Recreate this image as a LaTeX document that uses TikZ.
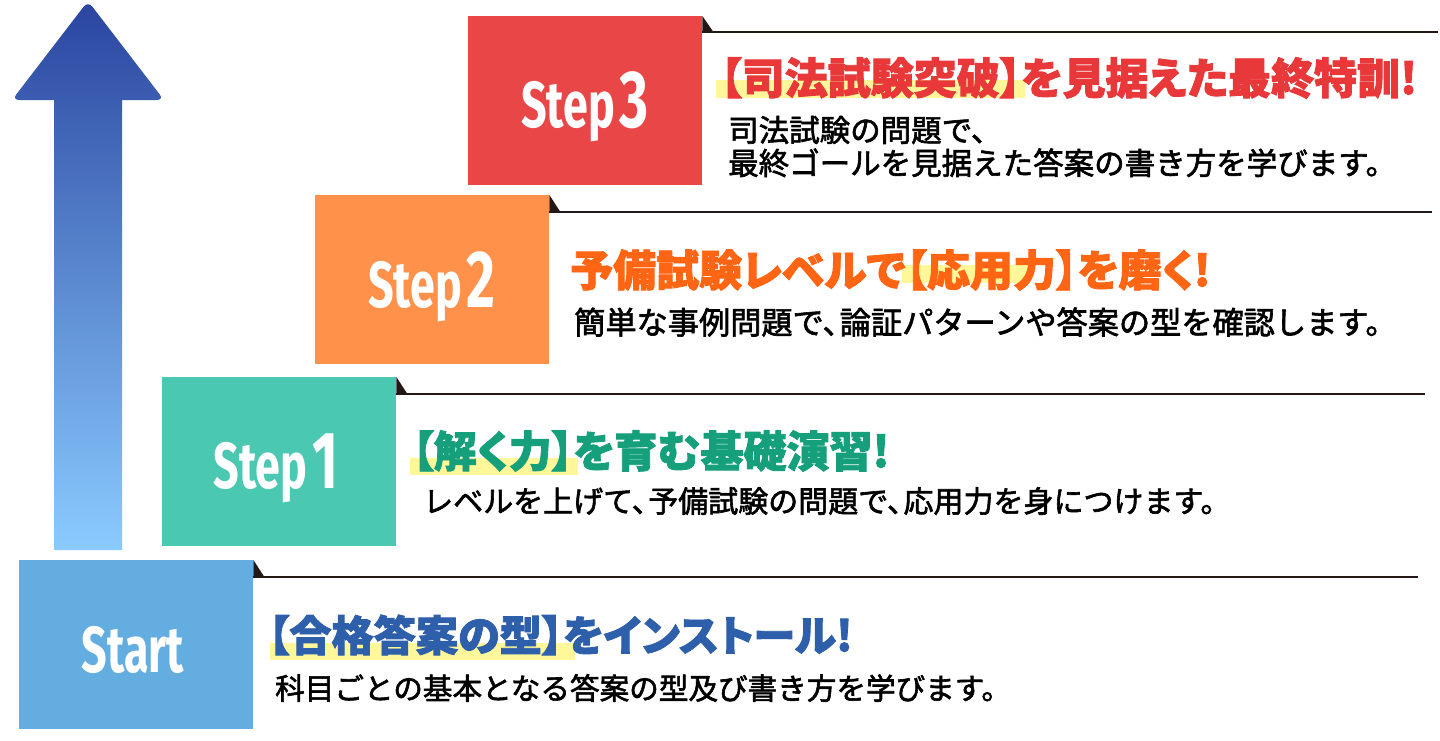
\documentclass[tikz,border=0pt]{standalone}
\usepackage{fontspec}
\newfontfamily\stepfont{Fira Sans}[FakeStretch=0.69]
\newfontfamily\jtitle{Noto Sans CJK JP}[RawFeature=+palt, BoldFeatures={FakeBold=2}]
\newfontfamily\jbody{Noto Sans CJK JP}[FakeBold=2]
\newcommand{\tenhalf}{、\kern-0.45em}
\definecolor{sthreebox}{HTML}{E94747}
\definecolor{sthreetxt}{HTML}{E8383A}
\definecolor{stwobox}{HTML}{FF914A}
\definecolor{stwotxt}{HTML}{FF6512}
\definecolor{sonebox}{HTML}{4BC8B1}
\definecolor{sonetxt}{HTML}{15A07B}
\definecolor{szerobox}{HTML}{63ADE0}
\definecolor{szerotxt}{HTML}{2D5FAA}
\definecolor{hilite}{HTML}{FFF799}
\definecolor{rulecol}{HTML}{231815}
\definecolor{arrowtop}{HTML}{2A45A0}
\definecolor{arrowbot}{HTML}{8ACBFF}
\tikzset{
  stepbox/.style={rectangle, inner sep=0pt, draw=none, minimum width=234pt, minimum height=169pt, anchor=north west},
  steplabel/.style={text=white, font=\stepfont\bfseries\fontsize{65}{65}\selectfont, inner sep=0pt, anchor=base},
  corner/.style={fill=rulecol},
  rule/.style={draw=rulecol, line width=2pt},
  hl/.style={fill=hilite},
  titletext/.style={font=\jtitle\bfseries\fontsize{43}{50}\selectfont, inner sep=0pt, anchor=west},
  bodytext/.style={font=\jbody\fontsize{30.5}{33}\selectfont, inner sep=0pt, anchor=west, text=black, align=left},
}
\begin{document}
\begin{tikzpicture}[x=1pt,y=-1pt]
\useasboundingbox[fill=white] (0,0) rectangle (1440,740);
% arrow
\shade[top color=arrowtop, bottom color=arrowbot]
  (54,550) -- (54,100) [rounded corners=7pt] -- (12,100) -- (88,1) -- (164,100) [sharp corners] -- (122,100) -- (122,550) -- cycle;
% boxes
\node[stepbox, fill=sthreebox] (b3) at (468,16) {};
\node[stepbox, fill=stwobox] (b2) at (315,195) {};
\node[stepbox, fill=sonebox] (b1) at (162,377) {};
\node[stepbox, fill=szerobox] (b0) at (19,560) {};
% corners and rules
\coordinate (e3) at (1438,32);
\coordinate (e2) at (1432,212);
\coordinate (e1) at (1425,394);
\coordinate (e0) at (1418,577);
\foreach \b/\e in {b3/e3,b2/e2,b1/e1,b0/e0}{
  \fill[corner] (\b.north east) -- (\b.north east |- \e) -- ++(11,0) -- cycle;
  \draw[rule] (\b.north east |- \e) -- (\e);
}
% step labels
\node[steplabel] (l3) at (585,127) {Step\hspace{5pt}{\fontsize{81}{81}\selectfont 3}};
\node[steplabel] (l2) at (432,307) {Step\hspace{5pt}{\fontsize{81}{81}\selectfont 2}};
\node[steplabel] (l1) at (276,488) {Step\hspace{5pt}{\fontsize{81}{81}\selectfont 1}};
\node[steplabel] (l0) at (133,672) {Start};
% highlights
\fill[hl] (716,80) rectangle (1025,98);
\fill[hl] (902,265) rectangle (1030,283);
\fill[hl] (410,458) rectangle (578,475);
\fill[hl] (270,643) rectangle (575,660);
% titles
\node[titletext, text=sthreetxt] (t3) at (720,78) {【司法試験突破】を見据えた最終特訓!};
\node[titletext, text=stwotxt] (t2) at (570,270) {予備試験レベルで【応用力】を磨く!};
\node[titletext, text=sonetxt] (t1) at (412,451) {【解く力】を育む基礎演習!};
\node[titletext, text=szerotxt, font=\jtitle\bfseries\fontsize{42.2}{50}\selectfont] (t0) at (268,635) {【合格答案の型】をインストール!};
% bodies
\node[bodytext] (d3) at (728,146.5) {司法試験の問題で、\\最終ゴールを見据えた答案の書き方を学びます。};
\node[bodytext, font=\jbody\fontsize{31.2}{33}\selectfont] (d2) at (574,322) {簡単な事例問題で\tenhalf 論証パターンや答案の型を確認します。};
\node[bodytext, font=\jbody\fontsize{30}{33}\selectfont] (d1) at (423,501) {レベルを上げて\tenhalf 予備試験の問題で\tenhalf 応用力を身につけます。};
\node[bodytext, font=\jbody\fontsize{29.6}{33}\selectfont] (d0) at (275,688) {科目ごとの基本となる答案の型及び書き方を学びます。};
\end{tikzpicture}
\end{document}
